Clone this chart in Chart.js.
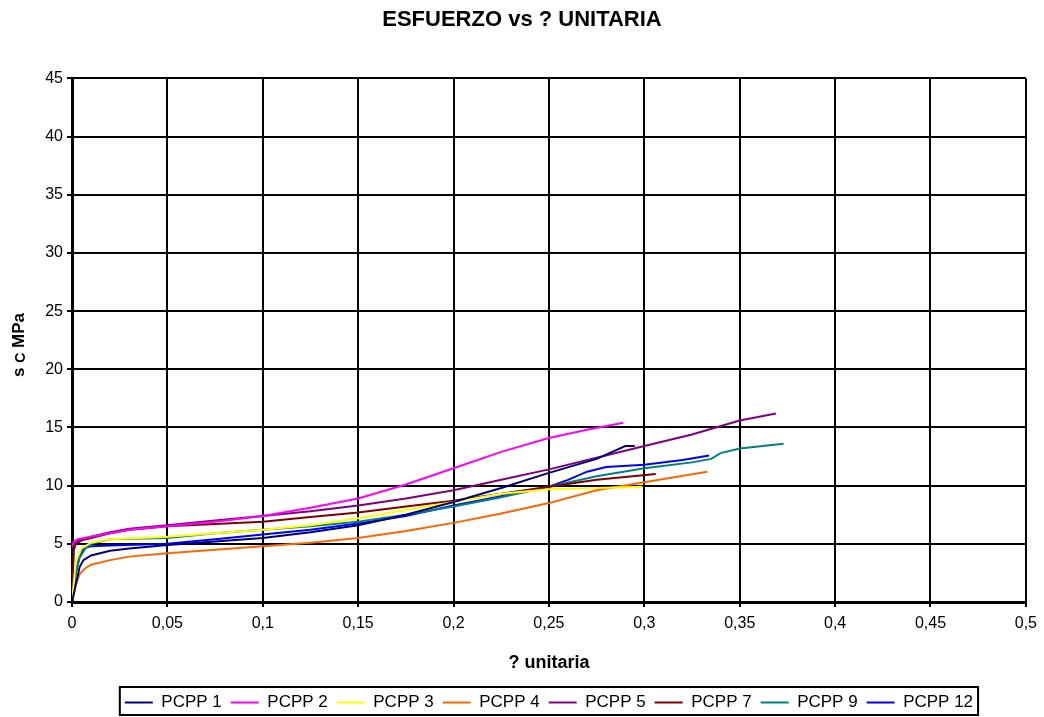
<!DOCTYPE html>
<html>
<head>
<meta charset="utf-8">
<title>ESFUERZO vs ? UNITARIA</title>
<script src="https://cdn.jsdelivr.net/npm/chart.js@4"></script>
<style>
  html, body { margin: 0; padding: 0; background: #ffffff; }
  #wrap { width: 1044px; height: 717px; }
</style>
</head>
<body>
<div id="wrap"><canvas id="stressChart" width="1044" height="717"></canvas></div>
<script>
// series names and colours, in legend order
const seriesNames = ["PCPP 1", "PCPP 2", "PCPP 3", "PCPP 4", "PCPP 5", "PCPP 7", "PCPP 9", "PCPP 12"];
const seriesColors = ["#000080", "#ff00ff", "#ffff00", "#ff6600", "#800080", "#800000", "#008080", "#0000ff"];

// unit strain (x) and stress in MPa (y)
const strainP1 = [0, 0.002, 0.004, 0.006, 0.01, 0.02, 0.03, 0.05, 0.075, 0.1, 0.125, 0.15, 0.175, 0.2, 0.225, 0.25, 0.275, 0.29, 0.295];
const stressP1 = [0, 1.5, 3.0, 3.6, 4.0, 4.4, 4.6, 4.9, 5.2, 5.5, 6.0, 6.6, 7.5, 8.6, 9.8, 11.1, 12.3, 13.4, 13.4];

const strainP2 = [0, 0.001, 0.003, 0.01, 0.02, 0.03, 0.05, 0.075, 0.1, 0.125, 0.15, 0.175, 0.2, 0.225, 0.25, 0.27, 0.289];
const stressP2 = [4.8, 5.2, 5.4, 5.6, 5.9, 6.2, 6.5, 6.9, 7.4, 8.1, 8.9, 10.1, 11.5, 12.9, 14.1, 14.8, 15.4];

const strainP3 = [0, 0.002, 0.005, 0.01, 0.02, 0.05, 0.075, 0.1, 0.125, 0.15, 0.175, 0.2, 0.225, 0.25, 0.275, 0.299];
const stressP3 = [0, 3.5, 4.6, 5.1, 5.4, 5.6, 5.9, 6.2, 6.6, 7.2, 7.9, 8.6, 9.3, 9.7, 9.8, 9.9];

const strainP4 = [0, 0.002, 0.004, 0.007, 0.01, 0.02, 0.03, 0.05, 0.075, 0.1, 0.125, 0.15, 0.175, 0.2, 0.225, 0.25, 0.275, 0.3, 0.333];
const stressP4 = [0, 1.5, 2.4, 2.9, 3.2, 3.6, 3.9, 4.2, 4.5, 4.8, 5.1, 5.5, 6.1, 6.8, 7.6, 8.5, 9.6, 10.3, 11.2];

const strainP5 = [0, 0.001, 0.003, 0.01, 0.02, 0.03, 0.05, 0.075, 0.1, 0.125, 0.15, 0.175, 0.2, 0.225, 0.25, 0.275, 0.3, 0.325, 0.35, 0.369];
const stressP5 = [4.6, 5.0, 5.3, 5.6, 6.0, 6.3, 6.6, 7.0, 7.4, 7.8, 8.3, 8.9, 9.6, 10.5, 11.4, 12.4, 13.4, 14.4, 15.6, 16.2];

const strainP7 = [0, 0.001, 0.002, 0.005, 0.01, 0.02, 0.03, 0.05, 0.075, 0.1, 0.125, 0.15, 0.175, 0.2, 0.225, 0.25, 0.275, 0.306];
const stressP7 = [0, 4.5, 5.0, 5.3, 5.5, 5.9, 6.2, 6.5, 6.7, 6.9, 7.3, 7.7, 8.2, 8.7, 9.3, 9.9, 10.5, 11.0];

const strainP9 = [0, 0.002, 0.004, 0.007, 0.01, 0.02, 0.05, 0.075, 0.1, 0.125, 0.15, 0.175, 0.2, 0.225, 0.25, 0.275, 0.3, 0.325, 0.335, 0.34, 0.35, 0.373];
const stressP9 = [0, 2.5, 3.8, 4.6, 5.0, 5.4, 5.5, 5.9, 6.2, 6.5, 6.9, 7.5, 8.2, 9.0, 9.9, 10.8, 11.5, 12.0, 12.3, 12.8, 13.2, 13.6];

const strainP12 = [0, 0.002, 0.004, 0.006, 0.01, 0.02, 0.05, 0.075, 0.1, 0.125, 0.15, 0.175, 0.2, 0.225, 0.25, 0.26, 0.27, 0.28, 0.3, 0.32, 0.334];
const stressP12 = [0, 2.5, 4.0, 4.6, 4.8, 4.85, 5.0, 5.4, 5.8, 6.2, 6.75, 7.4, 8.3, 9.1, 9.9, 10.5, 11.2, 11.6, 11.8, 12.2, 12.6];

const strainSets = [strainP1, strainP2, strainP3, strainP4, strainP5, strainP7, strainP9, strainP12];
const stressSets = [stressP1, stressP2, stressP3, stressP4, stressP5, stressP7, stressP9, stressP12];

const FONT = "'Liberation Sans', Arial, sans-serif";

// build the {x, y} point lists from the arrays above
const datasets = seriesNames.map((name, i) => ({
  label: name,
  data: strainSets[i].map((x, j) => ({ x: x, y: stressSets[i][j] })),
  borderColor: seriesColors[i],
  backgroundColor: seriesColors[i],
  borderWidth: 2,
  pointRadius: 0,
  tension: 0,
  fill: false
}));

// title centred on the page, legend centred under the plot area
const shiftBlocks = {
  id: "shiftBlocks",
  afterLayout(chart) {
    const t = chart.titleBlock;
    if (t) { t.left += 8; t.right += 8; }
    const lg = chart.legend;
    if (!lg) return;
    const dx = (chart.chartArea.left + chart.chartArea.right) / 2 - (lg.left + lg.right) / 2;
    const dy = 6;
    lg.left += dx; lg.right += dx; lg.top += dy; lg.bottom += dy;
    lg.legendHitBoxes.forEach(b => { b.left += dx; b.top += dy; });
  }
};

// y axis title: "s" + small "C" + " MPa", rotated
const yTitle = {
  id: "yTitle",
  afterDraw(chart) {
    const ctx = chart.ctx;
    ctx.save();
    ctx.translate(19, 345);
    ctx.rotate(-Math.PI / 2);
    ctx.fillStyle = "#000";
    ctx.textBaseline = "middle";
    const big = "bold 17px " + FONT;
    const small = "bold 14px " + FONT;
    ctx.font = big;
    const w1 = ctx.measureText("s ").width;
    const w3 = ctx.measureText(" MPa").width;
    ctx.font = small;
    const w2 = ctx.measureText("C").width;
    let x = -(w1 + w2 + w3) / 2;
    ctx.font = big;
    ctx.fillText("s ", x, 0);
    x += w1;
    ctx.font = small;
    ctx.fillText("C", x, 2);
    x += w2;
    ctx.font = big;
    ctx.fillText(" MPa", x, 0);
    ctx.restore();
  }
};

// box round the legend
const legendBox = {
  id: "legendBox",
  afterDraw(chart) {
    const lg = chart.legend;
    if (!lg || !lg.legendHitBoxes.length) return;
    const boxes = lg.legendHitBoxes;
    const left = Math.min(...boxes.map(b => b.left)) - 5;
    const right = Math.max(...boxes.map(b => b.left + b.width)) + 5;
    const top = lg.top + 2;
    const bottom = lg.top + 30;
    const ctx = chart.ctx;
    ctx.save();
    ctx.strokeStyle = "#000";
    ctx.lineWidth = 2;
    ctx.strokeRect(left, top, right - left, bottom - top);
    ctx.restore();
  }
};

new Chart(document.getElementById("stressChart").getContext("2d"), {
  type: "line",
  data: { datasets: datasets },
  options: {
    responsive: false,
    animation: false,
    layout: { padding: { left: 0, right: 16, top: 0, bottom: 2 } },
    plugins: {
      title: {
        display: true,
        text: "ESFUERZO vs ? UNITARIA",
        color: "#000",
        font: { family: FONT, size: 22, weight: "bold" },
        padding: { top: 7, bottom: 45 }
      },
      legend: {
        position: "bottom",
        labels: {
          color: "#000",
          font: { family: FONT, size: 17 },
          usePointStyle: true,
          pointStyle: "line",
          pointStyleWidth: 28,
          boxHeight: 17,
          padding: 9
        }
      },
      tooltip: { enabled: false }
    },
    scales: {
      x: {
        type: "linear",
        min: 0,
        max: 0.5,
        ticks: {
          stepSize: 0.05,
          color: "#000",
          font: { family: FONT, size: 16 },
          padding: 7,
          maxRotation: 0,
          callback: (v) => String(+v.toFixed(2)).replace(".", ",")
        },
        grid: { color: "#000", lineWidth: 2, tickLength: 5, tickColor: "#000" },
        border: { color: "#000", width: 3 },
        title: {
          display: true,
          text: "? unitaria",
          color: "#000",
          font: { family: FONT, size: 18, weight: "bold" },
          padding: { top: 0, bottom: 5 }
        },
        afterFit(scale) { scale.height = 77; }
      },
      y: {
        min: 0,
        max: 45,
        ticks: {
          stepSize: 5,
          color: "#000",
          font: { family: FONT, size: 16 },
          padding: 4
        },
        grid: { color: "#000", lineWidth: 2, tickLength: 5, tickColor: "#000" },
        border: { color: "#000", width: 3 },
        afterFit(scale) { scale.width = 72; }
      }
    }
  },
  plugins: [shiftBlocks, yTitle, legendBox]
});
</script>
</body>
</html>
